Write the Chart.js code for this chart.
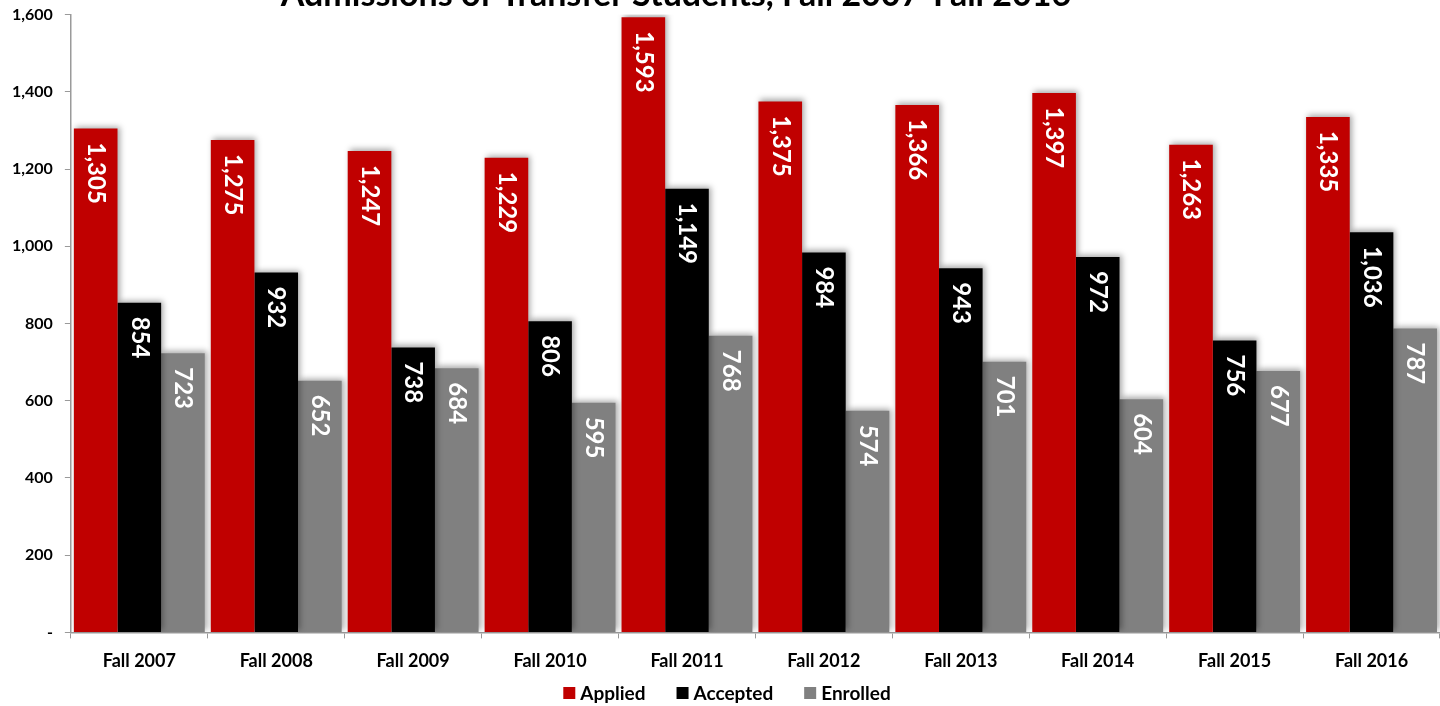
<!DOCTYPE html>
<html>
<head>
<meta charset="utf-8">
<script src="https://cdn.jsdelivr.net/npm/chart.js@4/dist/chart.umd.min.js"></script>
<style>
  html, body { margin: 0; padding: 0; background: #fff; overflow: hidden; }
  #wrap { position: relative; width: 1440px; height: 706px; overflow: hidden; }
  #c { position: absolute; left: 0; top: -7px; }
</style>
</head>
<body>
<div id="wrap"><canvas id="c" width="1440" height="713"></canvas></div>
<script>
const titleText = 'Admissions of Transfer Students, Fall 2007-Fall 2016';
const categories = ['Fall 2007','Fall 2008','Fall 2009','Fall 2010','Fall 2011','Fall 2012','Fall 2013','Fall 2014','Fall 2015','Fall 2016'];
const applied  = [1305, 1275, 1247, 1229, 1593, 1375, 1366, 1397, 1263, 1335];
const accepted = [854, 932, 738, 806, 1149, 984, 943, 972, 756, 1036];
const enrolled = [723, 652, 684, 595, 768, 574, 701, 604, 677, 787];
const seriesNames = ['Applied', 'Accepted', 'Enrolled'];
const seriesColors = ['#C00000', '#000000', '#808080'];

const FONT = 'Lato, "Open Sans", sans-serif';
const fmt = v => v.toLocaleString('en-US');

const titlePlugin = {
  id: 'cutTitle',
  afterDraw(chart) {
    const ctx = chart.ctx;
    ctx.save();
    ctx.font = 'bold 34px ' + FONT;
    ctx.fillStyle = '#000';
    ctx.textAlign = 'center';
    ctx.textBaseline = 'alphabetic';
    ctx.fillText(titleText, 676, 13);
    ctx.restore();
  }
};

const legendPlugin = {
  id: 'customLegend',
  afterDraw(chart) {
    const ctx = chart.ctx;
    ctx.save();
    ctx.font = 'bold 19px ' + FONT;
    ctx.textBaseline = 'middle';
    ctx.textAlign = 'left';
    const box = 12, gapBox = 5, gapItem = 31;
    const widths = seriesNames.map(n => box + gapBox + ctx.measureText(n).width);
    const total = widths.reduce((a, b) => a + b, 0) + gapItem * (seriesNames.length - 1);
    let x = 727 - total / 2;
    const y = 700;
    seriesNames.forEach((n, i) => {
      ctx.fillStyle = seriesColors[i];
      ctx.fillRect(x, y - box / 2, box, box);
      ctx.fillStyle = '#000';
      ctx.fillText(n, x + box + gapBox, y + 1);
      x += widths[i] + gapItem;
    });
    ctx.restore();
  }
};

const shadowPlugin = {
  id: 'barShadow',
  beforeDatasetsDraw(chart) {
    const ctx = chart.ctx;
    ctx.save();
    ctx.shadowColor = 'rgba(0,0,0,0.35)';
    ctx.shadowBlur = 6;
    ctx.shadowOffsetX = 2;
    ctx.shadowOffsetY = -2;
  },
  afterDatasetsDraw(chart) {
    chart.ctx.restore();
  }
};

const labelPlugin = {
  id: 'rotLabels',
  afterDatasetsDraw(chart) {
    const ctx = chart.ctx;
    ctx.save();
    ctx.font = 'bold 24px ' + FONT;
    ctx.fillStyle = '#fff';
    ctx.textAlign = 'left';
    ctx.textBaseline = 'middle';
    chart.data.datasets.forEach((ds, di) => {
      const meta = chart.getDatasetMeta(di);
      meta.data.forEach((bar, i) => {
        ctx.save();
        ctx.translate(bar.x, bar.y + 14);
        ctx.rotate(Math.PI / 2);
        ctx.fillText(fmt(ds.data[i]), 0, 0);
        ctx.restore();
      });
    });
    ctx.restore();
  }
};

new Chart(document.getElementById('c'), {
  type: 'bar',
  data: {
    labels: categories,
    datasets: [
      { label: seriesNames[0], data: applied,  backgroundColor: seriesColors[0] },
      { label: seriesNames[1], data: accepted, backgroundColor: seriesColors[1] },
      { label: seriesNames[2], data: enrolled, backgroundColor: seriesColors[2] }
    ]
  },
  options: {
    responsive: false,
    animation: false,
    devicePixelRatio: 1,
    layout: { padding: { top: 0, left: 0, right: 0, bottom: 22 } },
    datasets: { bar: { barPercentage: 1, categoryPercentage: 0.956 } },
    scales: {
      x: {
        grid: { display: true, drawOnChartArea: false, offset: true, color: '#9a9a9a', tickLength: 6 },
        border: { color: '#9a9a9a', width: 1.5 },
        ticks: { color: '#000', font: { family: FONT, size: 18, weight: 'bold' }, padding: 12 }
      },
      y: {
        min: 0, max: 1600,
        grid: { display: true, drawOnChartArea: false, color: '#9a9a9a', tickLength: 6 },
        border: { color: '#9a9a9a', width: 1.5 },
        ticks: {
          stepSize: 200,
          color: '#000',
          font: { family: FONT, size: 16, weight: 'bold' },
          padding: 12,
          callback: v => v === 0 ? '-' : fmt(v)
        }
      }
    },
    plugins: {
      legend: { display: false },
      title: { display: false },
      tooltip: { enabled: false }
    }
  },
  plugins: [shadowPlugin, labelPlugin, titlePlugin, legendPlugin]
});
</script>
</body>
</html>
